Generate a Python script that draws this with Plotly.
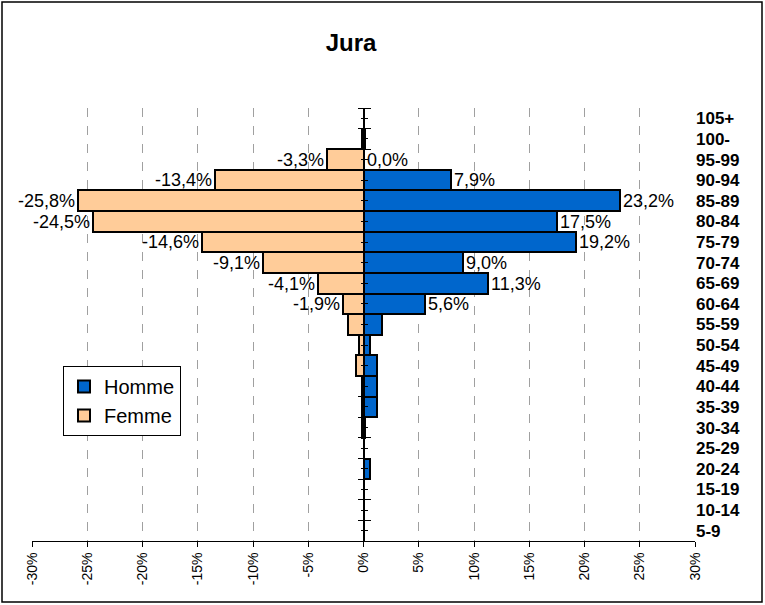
import plotly.graph_objects as go

categories = ["5-9", "10-14", "15-19", "20-24", "25-29", "30-34", "35-39", "40-44",
              "45-49", "50-54", "55-59", "60-64", "65-69", "70-74", "75-79", "80-84",
              "85-89", "90-94", "95-99", "100-", "105+"]
homme = [0, 0, 0, 0.6, 0, 0.1, 1.2, 1.2, 1.2, 0.6, 1.7, 5.6, 11.3, 9.0, 19.2, 17.5,
         23.2, 7.9, 0.0, 0.1, 0]
femme = [0, 0, 0, 0, 0, -0.15, -0.15, -0.15, -0.7, -0.4, -1.4, -1.9, -4.1, -9.1, -14.6,
         -24.5, -25.8, -13.4, -3.3, -0.15, 0]
labelled = ["60-64", "65-69", "70-74", "75-79", "80-84", "85-89", "90-94", "95-99"]
xticks = [-30, -25, -20, -15, -10, -5, 0, 5, 10, 15, 20, 25, 30]
xticktext = [f"{v}%" for v in xticks]

FONT = "Liberation Sans, Arial, sans-serif"


def fmt(v):
    return f"{v:.1f}".replace(".", ",") + "%"


homme_text = [fmt(v) if c in labelled else "" for c, v in zip(categories, homme)]
femme_text = [fmt(v) if c in labelled else "" for c, v in zip(categories, femme)]

W, H = 765, 605
ML, MR, MT, MB = 32, 70, 108, 64

fig = go.Figure()
fig.add_trace(go.Bar(
    y=categories, x=homme, orientation="h", name="Homme",
    marker=dict(color="#0066CC", line=dict(color="black", width=2)),
    text=homme_text, textposition="outside", cliponaxis=False,
    constraintext="none", textfont=dict(size=18, color="black", family=FONT),
    legendgroup="h"))
fig.add_trace(go.Bar(
    y=categories, x=femme, orientation="h", name="Femme",
    marker=dict(color="#FFCC99", line=dict(color="black", width=2)),
    text=femme_text, textposition="outside", cliponaxis=False,
    constraintext="none", textfont=dict(size=18, color="black", family=FONT),
    legendgroup="f"))

n = len(categories)
rng = [-0.5, n - 0.5]
boundaries = [i - 0.5 for i in range(n + 1)]
centers = list(range(n))

fig.update_layout(
    width=W, height=H,
    margin=dict(l=ML, r=MR, t=MT, b=MB),
    paper_bgcolor="white", plot_bgcolor="white",
    barmode="overlay", bargap=0,
    font=dict(family=FONT, color="black"),
    title=dict(text="<b>Jura</b>", font=dict(size=24, family=FONT, color="black"),
               x=351 / W, xref="container", xanchor="center",
               y=1 - 43 / H, yref="container", yanchor="middle"),
    xaxis=dict(range=[-30, 30], tickvals=xticks, ticktext=xticktext, tickangle=-90,
               tickfont=dict(size=14), showline=True, linecolor="black", linewidth=1,
               ticks="outside", ticklen=5, tickcolor="black", automargin=False,
               showgrid=True, gridcolor="#A0A0A0", griddash="dash", gridwidth=1,
               zeroline=False),
    yaxis=dict(type="category", categoryarray=categories, range=rng,
               anchor="free", position=0.5, showline=True, linecolor="black",
               linewidth=1.5, ticks="", showticklabels=False, showgrid=False,
               zeroline=False, automargin=False),
    yaxis2=dict(overlaying="y", type="linear", range=rng, anchor="free", position=1.0,
                side="right", tickvals=centers, ticktext=categories,
                tickfont=dict(size=17, family=FONT, color="black", weight="bold"),
                showgrid=False, ticks="", showline=False, zeroline=False,
                automargin=False),
    yaxis3=dict(overlaying="y", type="linear", range=rng, anchor="free", position=0.5,
                side="left", tickvals=boundaries, ticks="outside", ticklen=6,
                tickcolor="black", showticklabels=False, showgrid=False,
                showline=False, zeroline=False, automargin=False,
                minor=dict(tickvals=centers, ticks="outside", ticklen=3,
                           tickcolor="black")),
    yaxis4=dict(overlaying="y", type="linear", range=rng, anchor="free", position=0.5,
                side="right", tickvals=boundaries, ticks="outside", ticklen=6,
                tickcolor="black", showticklabels=False, showgrid=False,
                showline=False, zeroline=False, automargin=False,
                minor=dict(tickvals=centers, ticks="outside", ticklen=3,
                           tickcolor="black")),
    legend=dict(x=(63 - ML) / (W - ML - MR), y=(H - MB - 366) / (H - MT - MB),
                xanchor="left", yanchor="top", bgcolor="white",
                bordercolor="black", borderwidth=1, font=dict(size=20),
                traceorder="normal", tracegroupgap=14, itemwidth=30),
)

# invisible helper traces so the extra axes are drawn
for ax in ["y2", "y3", "y4"]:
    fig.add_trace(go.Scatter(x=[None], y=[None], yaxis=ax, showlegend=False,
                             hoverinfo="skip"))

pw = W - ML - MR
ph = H - MT - MB
fig.add_shape(type="rect", xref="paper", yref="paper",
              x0=(2 - ML) / pw, x1=(W - 3 - ML) / pw,
              y0=(H - MB - (H - 3)) / ph, y1=(H - MB - 2) / ph,
              line=dict(color="black", width=1.5), fillcolor="rgba(0,0,0,0)",
              layer="below")

fig.write_html("out.html", config={"displayModeBar": False},
               post_script="document.body.style.margin='0';"
                           "document.body.style.overflow='hidden';")
